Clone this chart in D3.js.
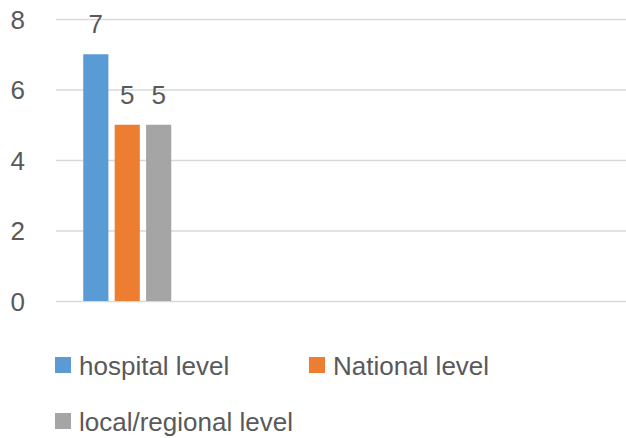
<!DOCTYPE html>
<html>
<head>
<meta charset="utf-8">
<script src="https://cdn.jsdelivr.net/npm/d3@7"></script>
<style>
  html, body { margin: 0; padding: 0; background: #fff; }
  svg { display: block; }
  text { font-family: "Liberation Sans", Arial, sans-serif; fill: #595959; }
</style>
</head>
<body>
<svg id="chart" width="626" height="438"></svg>
<script>
// ---- data ----
const categories = ["", "", "", ""];          // one filled category, three empty slots
const seriesNames = ["hospital level", "National level", "local/regional level"];
const seriesColors = ["#5B9BD5", "#ED7D31", "#A5A5A5"];
const hospitalValues = [7, null, null, null];
const nationalValues = [5, null, null, null];
const localValues = [5, null, null, null];
const yTicks = [0, 2, 4, 6, 8];

const seriesValues = [hospitalValues, nationalValues, localValues];

const svg = d3.select("#chart");
const margin = { left: 56, right: 0, top: 19, bottom: 137 };
const W = 626, H = 438;

const y = d3.scaleLinear().domain([0, 8]).range([H - margin.bottom, margin.top]);
const x0 = d3.scaleBand().domain(d3.range(categories.length)).range([margin.left, W - margin.right]).padding(0);
const step = x0.bandwidth();
// bar group occupies the middle of each band, gap width ~219%
const groupW = 88;
const x1 = d3.scaleBand().domain(d3.range(seriesNames.length))
  .range([(step - groupW) / 2, (step + groupW) / 2]).paddingInner(0.2).paddingOuter(0);

// gridlines
const yAxis = d3.axisLeft(y).tickValues(yTicks).tickSize(-(W - margin.left - margin.right)).tickFormat(d3.format("d")).tickPadding(31);
const gAxis = svg.append("g").attr("transform", `translate(${margin.left},0)`).call(yAxis);
gAxis.select(".domain").remove();
gAxis.selectAll(".tick line").attr("stroke", "#D9D9D9").attr("stroke-width", 1.5);
gAxis.selectAll(".tick text").attr("font-size", 26).style("fill", "#595959").attr("dy", "0.36em");

// bars
const gBars = svg.append("g");
categories.forEach((c, ci) => {
  seriesValues.forEach((vals, si) => {
    const v = vals[ci];
    if (v == null) return;
    const bx = x0(ci) + x1(si);
    gBars.append("rect")
      .attr("x", bx)
      .attr("y", y(v))
      .attr("width", x1.bandwidth())
      .attr("height", y(0) - y(v))
      .attr("fill", seriesColors[si]);
    gBars.append("text")
      .attr("x", bx + x1.bandwidth() / 2)
      .attr("y", y(v) - 21)
      .attr("text-anchor", "middle")
      .attr("font-size", 26)
      .text(v);
  });
});

// legend
const legendPos = [[55, 357], [309, 357], [55, 413]];
const gLeg = svg.append("g");
seriesNames.forEach((name, i) => {
  const [lx, ly] = legendPos[i];
  gLeg.append("rect").attr("x", lx).attr("y", ly).attr("width", 16).attr("height", 16).attr("fill", seriesColors[i]);
  gLeg.append("text").attr("x", lx + 24).attr("y", ly + 18).attr("font-size", 26).text(name);
});
</script>
</body>
</html>
